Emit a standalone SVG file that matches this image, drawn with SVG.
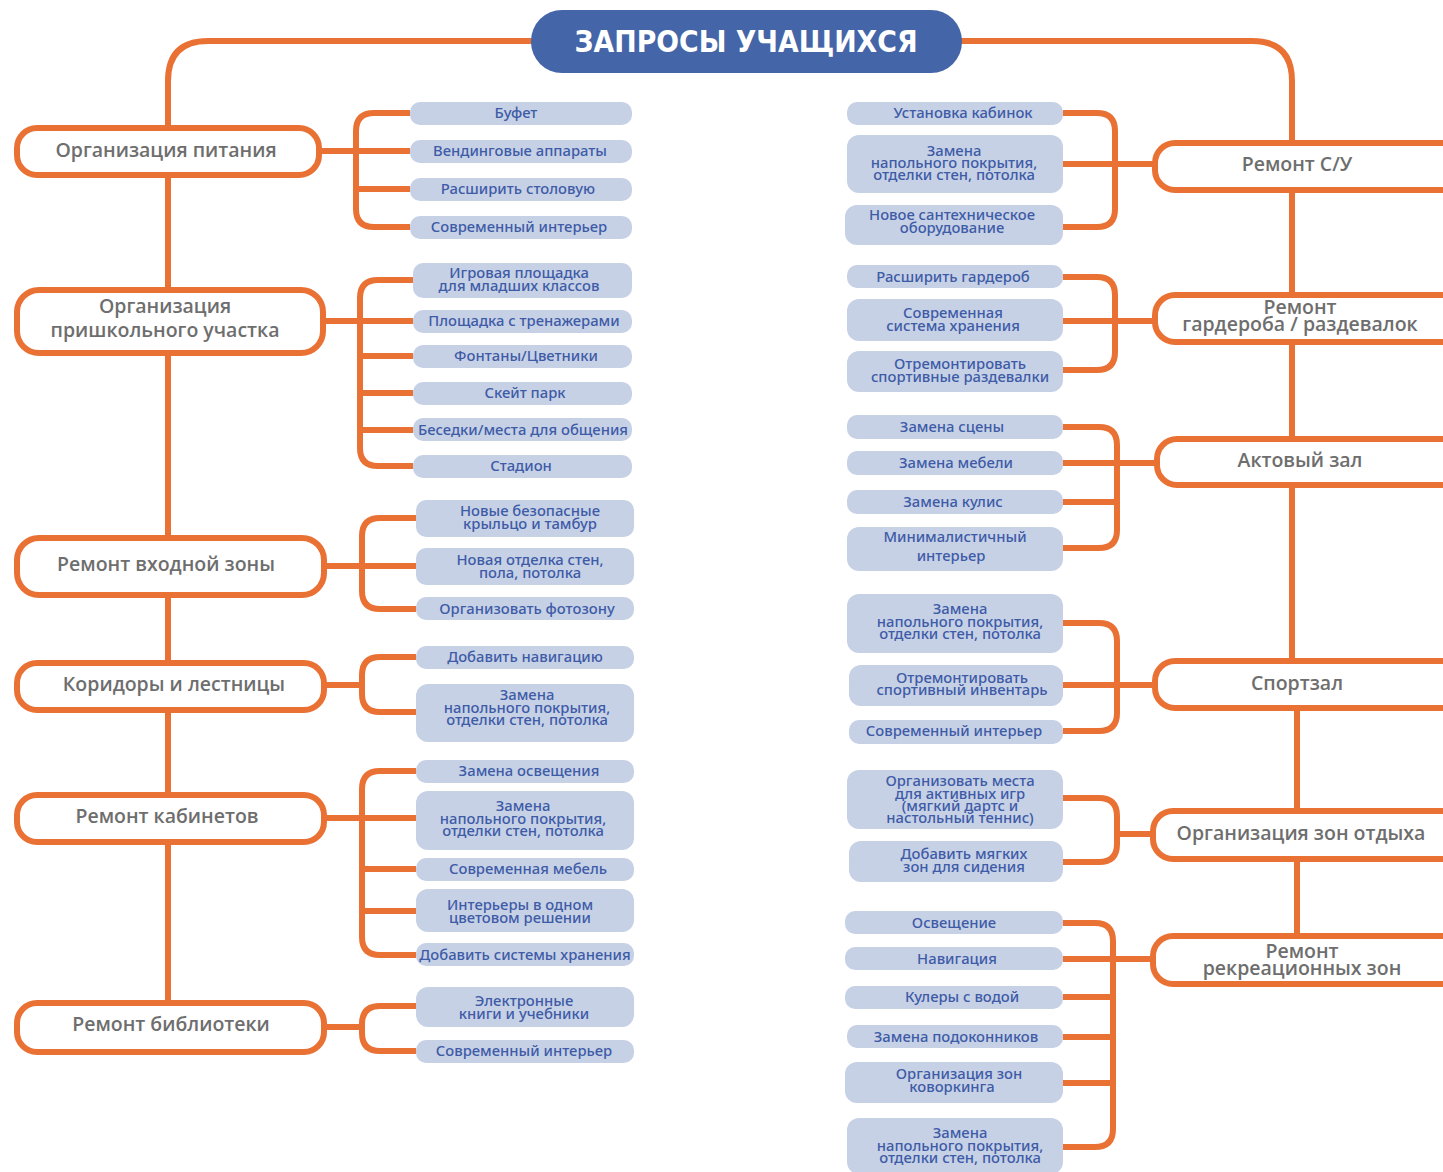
<svg xmlns="http://www.w3.org/2000/svg" width="1443" height="1172" viewBox="0 0 1443 1172">
<style>
.bg{fill:#ffffff}
.c{fill:none;stroke:#ea7134;stroke-width:6}
.n{fill:#ffffff;stroke:#ea7134;stroke-width:6}
.nt{font-family:"Open Sans","Noto Sans",sans-serif;font-weight:600;font-size:19.5px;fill:#6e6e6e;text-anchor:middle}
.k{fill:#c6d1e6}
.kt{font-family:"Noto Sans","Open Sans",sans-serif;font-weight:500;font-size:14.8px;fill:#3e5ba6;text-anchor:middle}
.tt{font-family:"DejaVu Sans",sans-serif;font-weight:bold;font-size:30px;fill:#ffffff;text-anchor:middle}
</style>
<rect class="bg" x="0" y="0" width="1443" height="1172"/>
<g id="connectors">
<path class="c" d="M540 41 H208 Q168 41 168 81 V1005"/>
<path class="c" d="M950 41 H1252 Q1292 41 1292 81 V660"/>
<path class="c" d="M1297 711 V935"/>
<path class="c" d="M410 113 H374 Q356 113 356 131 V209 Q356 227 374 227 H410 M319 151 H410 M356 189 H410"/>
<path class="c" d="M413 280 H378 Q360 280 360 298 V448 Q360 466 378 466 H413 M323 321 H413 M360 356 H413 M360 393 H413 M360 430 H413"/>
<path class="c" d="M416 518 H380 Q362 518 362 536 V591 Q362 609 380 609 H416 M324 566 H416"/>
<path class="c" d="M416 657 H380 Q362 657 362 675 V694 Q362 712 380 712 H416 M324 685 H362"/>
<path class="c" d="M416 771 H380 Q362 771 362 789 V937 Q362 955 380 955 H416 M324 818 H416 M362 869 H416 M362 911 H416"/>
<path class="c" d="M416 1006 H380 Q362 1006 362 1024 V1033 Q362 1051 380 1051 H416 M324 1027 H362"/>
<path class="c" d="M1063 113 H1097 Q1115 113 1115 131 V209 Q1115 227 1097 227 H1063 M1063 164 H1155"/>
<path class="c" d="M1063 277 H1097 Q1115 277 1115 295 V352 Q1115 370 1097 370 H1063 M1063 321 H1155"/>
<path class="c" d="M1063 427 H1099 Q1117 427 1117 445 V530 Q1117 548 1099 548 H1063 M1063 463 H1157 M1063 502 H1117"/>
<path class="c" d="M1063 623 H1099 Q1117 623 1117 641 V713 Q1117 731 1099 731 H1063 M1063 685 H1155"/>
<path class="c" d="M1063 798 H1099 Q1117 798 1117 816 V844 Q1117 862 1099 862 H1063 M1117 834 H1153"/>
<path class="c" d="M1063 923 H1095 Q1113 923 1113 941 V1129 Q1113 1147 1095 1147 H1063 M1063 959 H1153 M1063 997 H1113 M1063 1037 H1113 M1063 1083 H1113"/>
</g>
<g id="title">
<rect x="531" y="10" width="431" height="63" rx="31" fill="#4465a8"/>
<text class="tt" x="746" y="52" textLength="343" lengthAdjust="spacingAndGlyphs">ЗАПРОСЫ УЧАЩИХСЯ</text>
</g>
<g id="n-pitanie"><rect class="n" x="17" y="128" width="302" height="47" rx="20"/><text class="nt" x="166" y="157">Организация питания</text></g>
<g id="n-uchastok"><rect class="n" x="17" y="290" width="306" height="63" rx="22"/><text class="nt" y="313"><tspan x="165">Организация</tspan><tspan x="165" dy="24">пришкольного участка</tspan></text></g>
<g id="n-vhod"><rect class="n" x="17" y="538" width="307" height="57" rx="22"/><text class="nt" x="166" y="571">Ремонт входной зоны</text></g>
<g id="n-koridor"><rect class="n" x="17" y="663" width="307" height="47" rx="20"/><text class="nt" x="174" y="691">Коридоры и лестницы</text></g>
<g id="n-kabinet"><rect class="n" x="17" y="795" width="307" height="47" rx="20"/><text class="nt" x="167" y="823">Ремонт кабинетов</text></g>
<g id="n-biblio"><rect class="n" x="17" y="1003" width="307" height="49" rx="20"/><text class="nt" x="171" y="1031">Ремонт библиотеки</text></g>
<g id="n-su"><rect class="n" x="1155" y="143" width="310" height="47" rx="20"/><text class="nt" x="1297" y="171">Ремонт С/У</text></g>
<g id="n-garderob"><rect class="n" x="1155" y="295" width="310" height="47" rx="20"/><text class="nt" y="314"><tspan x="1300">Ремонт</tspan><tspan x="1300" dy="17">гардероба / раздевалок</tspan></text></g>
<g id="n-akt"><rect class="n" x="1157" y="439" width="310" height="46" rx="20"/><text class="nt" x="1300" y="467">Актовый зал</text></g>
<g id="n-sport"><rect class="n" x="1155" y="661" width="310" height="47" rx="20"/><text class="nt" x="1297" y="690">Спортзал</text></g>
<g id="n-otdyh"><rect class="n" x="1153" y="811" width="310" height="48" rx="20"/><text class="nt" x="1301" y="840">Организация зон отдыха</text></g>
<g id="n-rekr"><rect class="n" x="1153" y="936" width="310" height="48" rx="20"/><text class="nt" y="958"><tspan x="1302">Ремонт</tspan><tspan x="1302" dy="17">рекреационных зон</tspan></text></g>
<g id="k-l1">
<rect class="k" x="410" y="102" width="222" height="23" rx="10"/><text class="kt" x="516" y="118">Буфет</text>
<rect class="k" x="410" y="140" width="222" height="23" rx="10"/><text class="kt" x="520" y="156">Вендинговые аппараты</text>
<rect class="k" x="410" y="178" width="222" height="23" rx="10"/><text class="kt" x="518" y="194">Расширить столовую</text>
<rect class="k" x="410" y="216" width="222" height="23" rx="10"/><text class="kt" x="519" y="232">Современный интерьер</text>
</g>
<g id="k-l2">
<rect class="k" x="413" y="263" width="219" height="35" rx="10"/><text class="kt" y="278"><tspan x="519">Игровая площадка</tspan><tspan x="519" dy="13">для младших классов</tspan></text>
<rect class="k" x="413" y="310" width="219" height="23" rx="10"/><text class="kt" x="524" y="326">Площадка с тренажерами</text>
<rect class="k" x="413" y="345" width="219" height="23" rx="10"/><text class="kt" x="526" y="361">Фонтаны/Цветники</text>
<rect class="k" x="413" y="382" width="219" height="23" rx="10"/><text class="kt" x="525" y="398">Скейт парк</text>
<rect class="k" x="413" y="418" width="219" height="23" rx="10"/><text class="kt" x="523" y="435">Беседки/места для общения</text>
<rect class="k" x="413" y="455" width="219" height="23" rx="10"/><text class="kt" x="521" y="471">Стадион</text>
</g>
<g id="k-l3">
<rect class="k" x="416" y="500" width="218" height="37" rx="10"/><text class="kt" y="516"><tspan x="530">Новые безопасные</tspan><tspan x="530" dy="13">крыльцо и тамбур</tspan></text>
<rect class="k" x="416" y="548" width="218" height="37" rx="10"/><text class="kt" y="565"><tspan x="530">Новая отделка стен,</tspan><tspan x="530" dy="13">пола, потолка</tspan></text>
<rect class="k" x="416" y="597" width="218" height="23" rx="10"/><text class="kt" x="527" y="614">Организовать фотозону</text>
</g>
<g id="k-l4">
<rect class="k" x="416" y="646" width="218" height="23" rx="10"/><text class="kt" x="525" y="662">Добавить навигацию</text>
<rect class="k" x="416" y="684" width="218" height="58" rx="12"/><text class="kt" y="700"><tspan x="527">Замена</tspan><tspan x="527" dy="13">напольного покрытия,</tspan><tspan x="527" dy="12">отделки стен, потолка</tspan></text>
</g>
<g id="k-l5">
<rect class="k" x="416" y="760" width="218" height="23" rx="10"/><text class="kt" x="529" y="776">Замена освещения</text>
<rect class="k" x="416" y="791" width="218" height="59" rx="12"/><text class="kt" y="811"><tspan x="523">Замена</tspan><tspan x="523" dy="13">напольного покрытия,</tspan><tspan x="523" dy="12">отделки стен, потолка</tspan></text>
<rect class="k" x="416" y="858" width="218" height="23" rx="10"/><text class="kt" x="528" y="874">Современная мебель</text>
<rect class="k" x="416" y="889" width="218" height="43" rx="12"/><text class="kt" y="910"><tspan x="520">Интерьеры в одном</tspan><tspan x="520" dy="13">цветовом решении</tspan></text>
<rect class="k" x="416" y="943" width="218" height="23" rx="10"/><text class="kt" x="525" y="960">Добавить системы хранения</text>
</g>
<g id="k-l6">
<rect class="k" x="416" y="987" width="218" height="40" rx="12"/><text class="kt" y="1006"><tspan x="524">Электронные</tspan><tspan x="524" dy="13">книги и учебники</tspan></text>
<rect class="k" x="416" y="1040" width="218" height="23" rx="10"/><text class="kt" x="524" y="1056">Современный интерьер</text>
</g>
<g id="k-r1">
<rect class="k" x="847" y="102" width="216" height="23" rx="10"/><text class="kt" x="963" y="118">Установка кабинок</text>
<rect class="k" x="847" y="135" width="216" height="58" rx="12"/><text class="kt" y="156"><tspan x="954">Замена</tspan><tspan x="954" dy="12">напольного покрытия,</tspan><tspan x="954" dy="12">отделки стен, потолка</tspan></text>
<rect class="k" x="845" y="205" width="218" height="40" rx="12"/><text class="kt" y="220"><tspan x="952">Новое сантехническое</tspan><tspan x="952" dy="13">оборудование</tspan></text>
</g>
<g id="k-r2">
<rect class="k" x="847" y="265" width="216" height="23" rx="10"/><text class="kt" x="953" y="282">Расширить гардероб</text>
<rect class="k" x="847" y="299" width="216" height="42" rx="12"/><text class="kt" y="318"><tspan x="953">Современная</tspan><tspan x="953" dy="13">система хранения</tspan></text>
<rect class="k" x="847" y="351" width="216" height="41" rx="12"/><text class="kt" y="369"><tspan x="960">Отремонтировать</tspan><tspan x="960" dy="13">спортивные раздевалки</tspan></text>
</g>
<g id="k-r3">
<rect class="k" x="847" y="415" width="216" height="24" rx="10"/><text class="kt" x="952" y="432">Замена сцены</text>
<rect class="k" x="847" y="451" width="216" height="24" rx="10"/><text class="kt" x="956" y="468">Замена мебели</text>
<rect class="k" x="847" y="490" width="216" height="24" rx="10"/><text class="kt" x="953" y="507">Замена кулис</text>
<rect class="k" x="847" y="527" width="216" height="44" rx="12"/><text class="kt" y="542"><tspan x="955">Минималистичный</tspan><tspan x="951" dy="19">интерьер</tspan></text>
</g>
<g id="k-r4">
<rect class="k" x="847" y="594" width="216" height="59" rx="12"/><text class="kt" y="614"><tspan x="960">Замена</tspan><tspan x="960" dy="13">напольного покрытия,</tspan><tspan x="960" dy="12">отделки стен, потолка</tspan></text>
<rect class="k" x="849" y="665" width="214" height="41" rx="12"/><text class="kt" y="683"><tspan x="962">Отремонтировать</tspan><tspan x="962" dy="12">спортивный инвентарь</tspan></text>
<rect class="k" x="849" y="720" width="214" height="24" rx="10"/><text class="kt" x="954" y="736">Современный интерьер</text>
</g>
<g id="k-r5">
<rect class="k" x="847" y="770" width="216" height="59" rx="12"/><text class="kt" y="786"><tspan x="960">Организовать места</tspan><tspan x="960" dy="13">для активных игр</tspan><tspan x="960" dy="12">(мягкий дартс и</tspan><tspan x="960" dy="12">настольный теннис)</tspan></text>
<rect class="k" x="849" y="841" width="214" height="41" rx="12"/><text class="kt" y="859"><tspan x="964">Добавить мягких</tspan><tspan x="964" dy="13">зон для сидения</tspan></text>
</g>
<g id="k-r6">
<rect class="k" x="845" y="911" width="218" height="23" rx="10"/><text class="kt" x="954" y="928">Освещение</text>
<rect class="k" x="845" y="947" width="218" height="23" rx="10"/><text class="kt" x="957" y="964">Навигация</text>
<rect class="k" x="845" y="986" width="218" height="23" rx="10"/><text class="kt" x="962" y="1002">Кулеры с водой</text>
<rect class="k" x="847" y="1025" width="216" height="23" rx="10"/><text class="kt" x="956" y="1042">Замена подоконников</text>
<rect class="k" x="845" y="1062" width="218" height="41" rx="12"/><text class="kt" y="1079"><tspan x="959">Организация зон</tspan><tspan x="952" dy="13">коворкинга</tspan></text>
<rect class="k" x="847" y="1118" width="216" height="56" rx="12"/><text class="kt" y="1138"><tspan x="960">Замена</tspan><tspan x="960" dy="13">напольного покрытия,</tspan><tspan x="960" dy="12">отделки стен, потолка</tspan></text>
</g>
</svg>
